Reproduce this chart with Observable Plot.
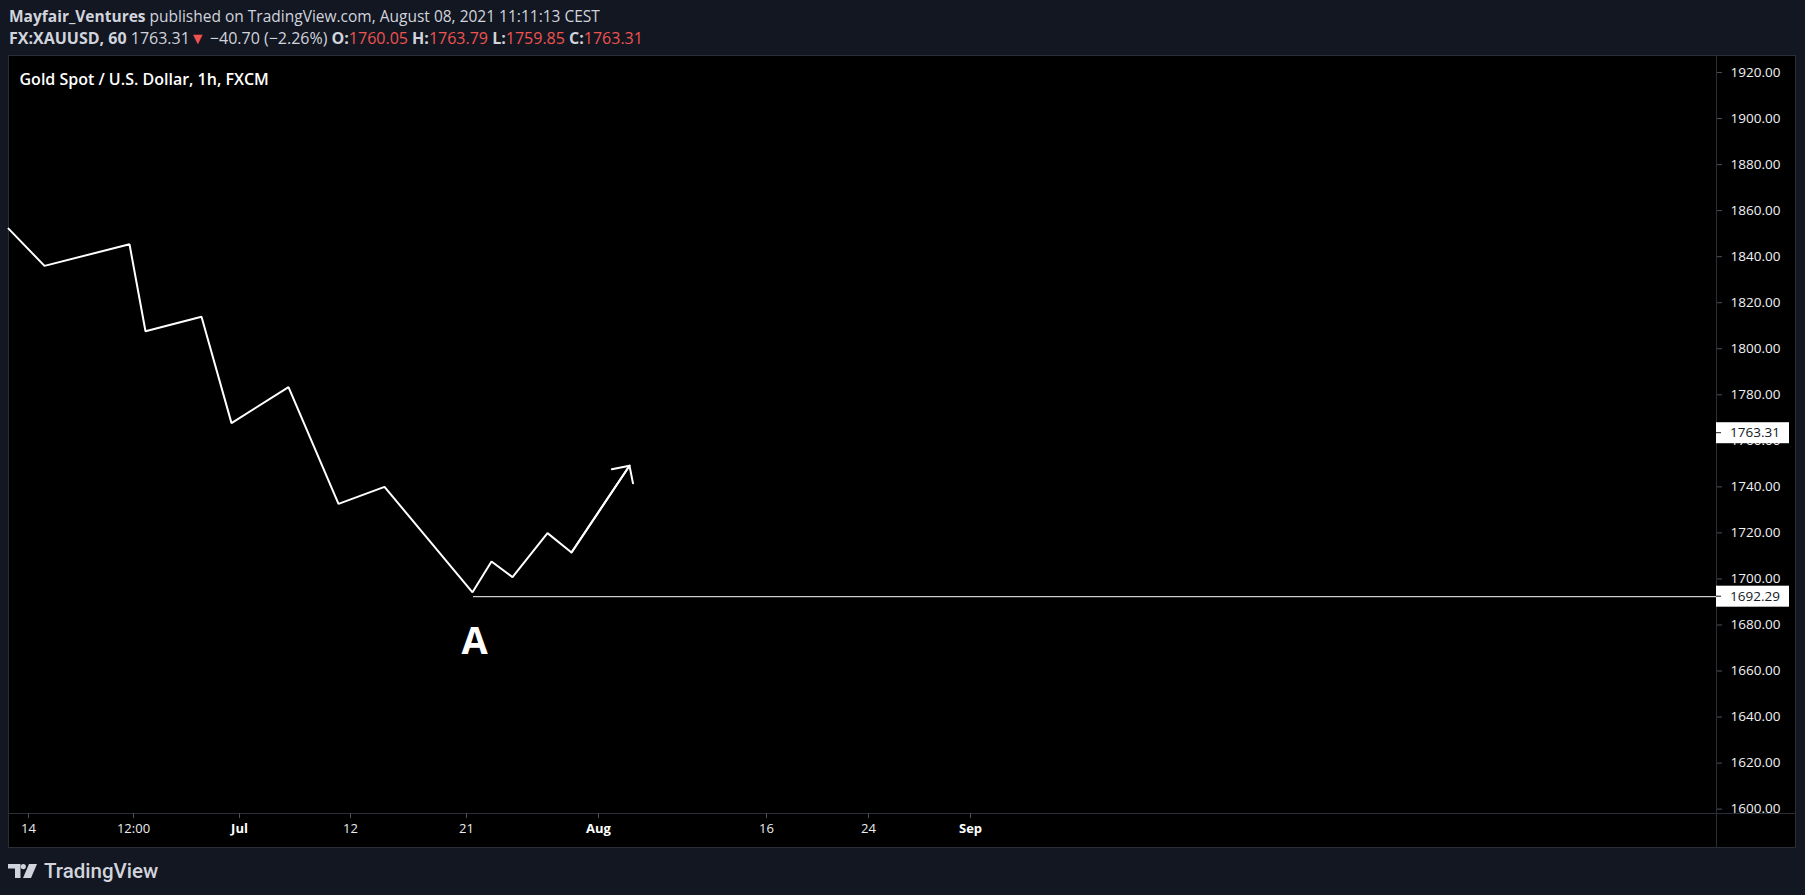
<!DOCTYPE html>
<html>
<head>
<meta charset="utf-8">
<script src="https://cdn.jsdelivr.net/npm/d3@7"></script>
<script src="https://cdn.jsdelivr.net/npm/@observablehq/plot@0.6"></script>
<style>
  html, body { margin:0; padding:0; background:#131722; width:1805px; height:895px; overflow:hidden; font-family:"Open Sans", sans-serif; }
  #header { position:absolute; left:0; top:0; width:1805px; height:55px; color:#d1d4dc; }
  .line { position:absolute; left:9px; line-height:20px; white-space:nowrap; }
  #l1 { top:6px; font-size:15.5px; }
  #l2 { top:28px; font-size:16px; }
  .b { font-weight:700; }
  .r { color:#ef5350; }
  #panel { position:absolute; left:8px; top:55px; width:1788px; height:793px; background:#000; box-sizing:border-box; border:1px solid #2a2e39; }
  .vsep { position:absolute; left:1716px; top:55px; width:1px; height:793px; background:#2a2e39; }
  .hsep { position:absolute; left:8px; top:813px; width:1788px; height:1px; background:#2a2e39; }
  #chart { position:absolute; left:0; top:55px; }
  #logo { position:absolute; left:8px; top:860px; display:flex; align-items:center; }
  #logo span { font-family:Roboto, sans-serif; font-weight:500; font-size:20.5px; color:#d1d4dc; margin-left:6px; line-height:22px; }
</style>
</head>
<body>
<div id="header">
  <div class="line" id="l1"></div>
  <div class="line" id="l2"></div>
</div>
<div id="panel"></div>
<div class="vsep"></div>
<div class="hsep"></div>
<div id="chart"></div>
<div id="logo">
  <svg width="30" height="14" viewBox="0 0 30 14">
    <path d="M0 0 H12.5 V14 H7 V4.5 H0 Z" fill="#d1d4dc"/>
    <circle cx="15.3" cy="2.6" r="2.6" fill="#d1d4dc"/>
    <path d="M21 0 H29 L23 14 H15 Z" fill="#d1d4dc"/>
  </svg>
  <span>TradingView</span>
</div>
<script>
// ---- header info ----
const author = "Mayfair_Ventures";
const published = "published on TradingView.com, August 08, 2021 11:11:13 CEST";
const symbol = "FX:XAUUSD, 60";
const lastPrice = 1763.31;
const change = "\u221240.70 (\u22122.26%)";
const ohlcKeys = ["O:", "H:", "L:", "C:"];
const ohlcVals = ["1760.05", "1763.79", "1759.85", "1763.31"];
const chartTitle = "Gold Spot / U.S. Dollar, 1h, FXCM";

// ---- drawn path (x = bar index, y = price) ----
const pathX = [0, 36, 121, 137, 193, 223, 280, 330, 376, 464, 483, 504, 539, 563, 621];
const pathY = [1852.2, 1836.0, 1845.4, 1807.6, 1813.9, 1767.7, 1783.3, 1732.6, 1740.0, 1694.2, 1707.6, 1700.8, 1719.9, 1711.5, 1749.2];

// ---- horizontal level from point A ----
const levelValue = 1692.29;
const levelStartX = 465;
const labelA = "A";
const labelAX = 466;
const labelAY = 1672.6;

// ---- axes ----
const xDomain = [0, 1708];
const yDomain = [1598.1, 1927.4];
const yTicks = [1600, 1620, 1640, 1660, 1680, 1700, 1720, 1740, 1760, 1780, 1800, 1820, 1840, 1860, 1880, 1900, 1920];
const xTickPos = [20, 125, 231, 342, 458, 590, 758, 860, 962];
const xTickLabels = ["14", "12:00", "Jul", "12", "21", "Aug", "16", "24", "Sep"];
const xTickBold = [false, false, true, false, false, true, false, false, true];
const priceTagValues = [1763.31, 1692.29];

// header
document.getElementById("l1").innerHTML = `<span class="b">${author}</span> ${published}`;
let l2 = `<span class="b">${symbol}</span> ${lastPrice.toFixed(2)}<span class="r">\u25BC</span> ${change}`;
ohlcKeys.forEach((k, i) => { l2 += ` <span class="b">${k}</span><span class="r">${ohlcVals[i]}</span>`; });
document.getElementById("l2").innerHTML = l2;

const pathData = pathX.map((x, i) => ({x, y: pathY[i]}));
const last = pathData.length - 1;
const arrowData = [{x1: pathX[last - 1], y1: pathY[last - 1], x2: pathX[last], y2: pathY[last]}];
const xTicks = xTickPos.map((p, i) => ({p, label: xTickLabels[i], bold: xTickBold[i]}));

function priceTags(index, scales, values, dims) {
  const g = d3.create("svg:g");
  const x0 = dims.width - dims.marginRight;
  for (const v of priceTagValues) {
    const y = scales.y(v);
    g.append("rect").attr("x", x0).attr("y", y - 10.5).attr("width", 73).attr("height", 21).attr("fill", "#ffffff");
    g.append("line").attr("x1", x0).attr("x2", x0 + 5).attr("y1", y).attr("y2", y).attr("stroke", "#131722");
    g.append("text").attr("x", x0 + 14).attr("y", y).attr("dy", "0.35em")
      .attr("text-anchor", "start")
      .attr("fill", "#131722").attr("font-family", "Open Sans").attr("font-size", 13.5)
      .text(v.toFixed(2));
  }
  return g.node();
}

const chart = Plot.plot({
  width: 1805,
  height: 793,
  marginLeft: 8,
  marginRight: 89,
  marginTop: 0,
  marginBottom: 35,
  style: {background: "transparent", color: "#e6e7ea", fontFamily: "Open Sans", overflow: "visible"},
  x: {domain: xDomain, axis: null},
  y: {domain: yDomain, axis: null},
  marks: [
    Plot.axisY(yTicks, {anchor: "right", tickSize: 5, tickPadding: 9, stroke: "#4c505b", fill: "#f2f2f4", fontSize: 13.5, tickFormat: d => d.toFixed(2), label: null}),
    Plot.axisX(xTickPos, {anchor: "bottom", tickSize: 5, stroke: "#4c505b", tickFormat: () => "", label: null}),
    Plot.text(xTicks.filter(d => !d.bold), {x: "p", text: "label", frameAnchor: "bottom", dy: 19, fill: "#ececee", fontSize: 13}),
    Plot.text(xTicks.filter(d => d.bold), {x: "p", text: "label", frameAnchor: "bottom", dy: 19, fill: "#ffffff", fontSize: 13, fontWeight: "bold"}),
    Plot.text([chartTitle], {frameAnchor: "top-left", dx: 11, dy: 18, textAnchor: "start", fill: "#ffffff", fontSize: 16, fontWeight: 600}),
    Plot.ruleY([levelValue], {x1: levelStartX, x2: xDomain[1], stroke: "#ffffff", strokeWidth: 1}),
    Plot.line(pathData, {x: "x", y: "y", stroke: "#ffffff", strokeWidth: 2, strokeLinejoin: "miter"}),
    Plot.arrow(arrowData, {x1: "x1", y1: "y1", x2: "x2", y2: "y2", stroke: "#ffffff", strokeWidth: 2, headAngle: 90, headLength: 13.5, bend: 0}),
    Plot.text([labelA], {x: () => labelAX, y: () => labelAY, fill: "#ffffff", fontSize: 38, fontWeight: "bold", fontFamily: "Open Sans"}),
    priceTags
  ]
});
document.getElementById("chart").appendChild(chart);
</script>
</body>
</html>
